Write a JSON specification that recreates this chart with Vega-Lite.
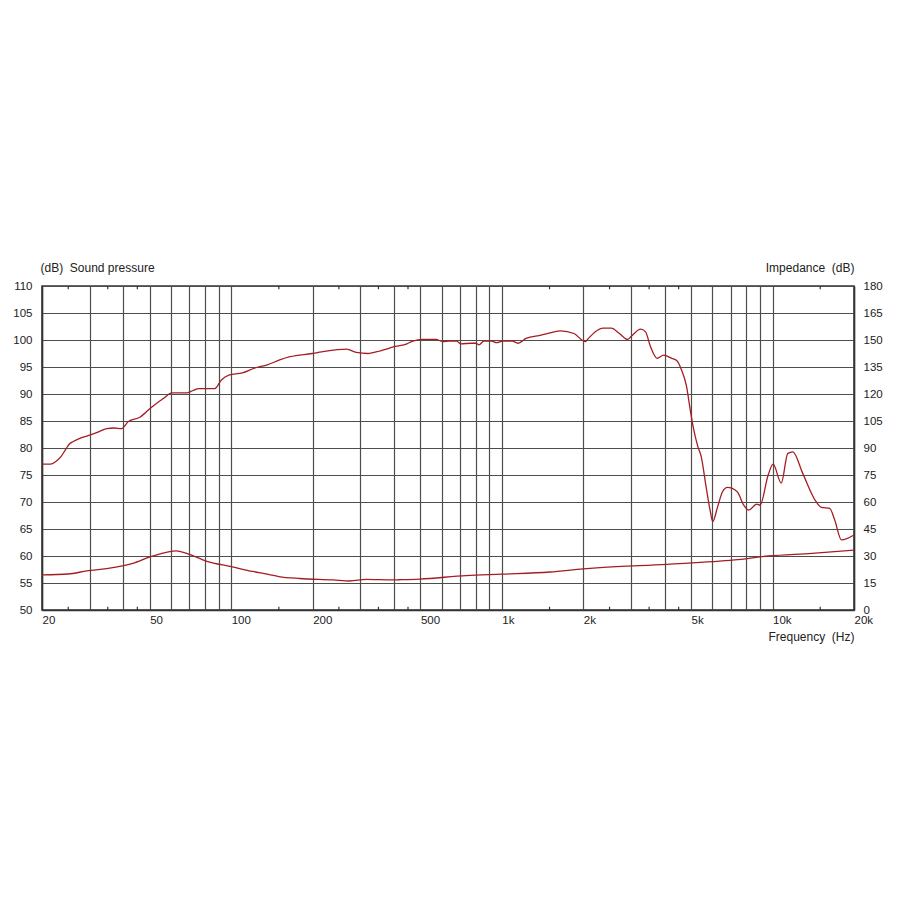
{
  "$schema": "https://vega.github.io/schema/vega-lite/v6.json",
  "width": 812,
  "height": 324,
  "autosize": {"type": "none"},
  "padding": {"left": 42, "top": 286, "right": 46, "bottom": 290},
  "background": "white",
  "config": {
    "view": {"stroke": "#333", "strokeWidth": 1.5},
    "axis": {
      "labelFont": "Liberation Sans",
      "labelFontSize": 11.5,
      "labelColor": "#222",
      "titleFont": "Liberation Sans",
      "titleFontSize": 12,
      "titleFontWeight": "normal",
      "titleColor": "#222",
      "domainColor": "#333",
      "domainWidth": 1.5,
      "gridColor": "#4d4d4d",
      "gridWidth": 1.2,
      "gridOpacity": 1,
      "ticks": false
    }
  },
  "datasets": {
    "spl": [
      {"f": 20, "spl": 77.0}, {"f": 21.5, "spl": 77.0}, {"f": 22.5, "spl": 77.5}, {"f": 23.5, "spl": 78.4},
      {"f": 24.5, "spl": 79.8}, {"f": 25.2, "spl": 80.7}, {"f": 26.1, "spl": 81.2}, {"f": 27.6, "spl": 81.8},
      {"f": 29.3, "spl": 82.2}, {"f": 32, "spl": 82.9}, {"f": 34.7, "spl": 83.6}, {"f": 37, "spl": 83.7},
      {"f": 39.3, "spl": 83.6}, {"f": 41.7, "spl": 84.9}, {"f": 46, "spl": 85.7}, {"f": 50.4, "spl": 87.4},
      {"f": 56.3, "spl": 89.2}, {"f": 60.4, "spl": 90.2}, {"f": 68.5, "spl": 90.2}, {"f": 72, "spl": 90.6},
      {"f": 76, "spl": 91.0}, {"f": 87, "spl": 91.0}, {"f": 92, "spl": 92.6}, {"f": 98, "spl": 93.5},
      {"f": 110, "spl": 93.9}, {"f": 122, "spl": 94.8}, {"f": 136, "spl": 95.4}, {"f": 151, "spl": 96.3},
      {"f": 165, "spl": 96.9}, {"f": 199, "spl": 97.5}, {"f": 216, "spl": 97.8}, {"f": 267, "spl": 98.3},
      {"f": 290, "spl": 97.7}, {"f": 320, "spl": 97.5}, {"f": 356, "spl": 98.0}, {"f": 404, "spl": 98.8},
      {"f": 446, "spl": 99.3}, {"f": 469, "spl": 99.8}, {"f": 510, "spl": 100.1}, {"f": 571, "spl": 100.1},
      {"f": 604, "spl": 99.7}, {"f": 640, "spl": 99.8}, {"f": 680, "spl": 99.8}, {"f": 706, "spl": 99.3},
      {"f": 771, "spl": 99.4}, {"f": 802, "spl": 99.4}, {"f": 823, "spl": 99.1}, {"f": 858, "spl": 99.8},
      {"f": 918, "spl": 99.8}, {"f": 955, "spl": 99.5}, {"f": 1010, "spl": 99.8}, {"f": 1092, "spl": 99.8},
      {"f": 1148, "spl": 99.4}, {"f": 1228, "spl": 100.3}, {"f": 1397, "spl": 100.9}, {"f": 1506, "spl": 101.3},
      {"f": 1650, "spl": 101.7}, {"f": 1846, "spl": 101.2}, {"f": 2033, "spl": 99.7}, {"f": 2090, "spl": 100.3},
      {"f": 2209, "spl": 101.5}, {"f": 2367, "spl": 102.2}, {"f": 2537, "spl": 102.2}, {"f": 2719, "spl": 101.2},
      {"f": 2914, "spl": 100.1}, {"f": 2997, "spl": 100.6}, {"f": 3257, "spl": 102.0}, {"f": 3395, "spl": 101.5},
      {"f": 3540, "spl": 98.8}, {"f": 3744, "spl": 96.6}, {"f": 3961, "spl": 97.2}, {"f": 4245, "spl": 96.6},
      {"f": 4426, "spl": 96.2}, {"f": 4615, "spl": 94.4}, {"f": 4812, "spl": 91.4}, {"f": 4947, "spl": 87.6},
      {"f": 5087, "spl": 84.0}, {"f": 5302, "spl": 80.2}, {"f": 5452, "spl": 78.4}, {"f": 5684, "spl": 72.8},
      {"f": 5879, "spl": 68.5}, {"f": 6013, "spl": 66.4}, {"f": 6268, "spl": 69.1}, {"f": 6535, "spl": 71.9},
      {"f": 6813, "spl": 72.7}, {"f": 7405, "spl": 71.9}, {"f": 7832, "spl": 69.4}, {"f": 8165, "spl": 68.5},
      {"f": 8747, "spl": 69.6}, {"f": 8991, "spl": 69.4}, {"f": 9638, "spl": 75.0}, {"f": 10050, "spl": 77.0},
      {"f": 10770, "spl": 73.5}, {"f": 11390, "spl": 79.0}, {"f": 11880, "spl": 79.3}, {"f": 12930, "spl": 75.3},
      {"f": 14470, "spl": 70.1}, {"f": 15180, "spl": 69.0}, {"f": 16270, "spl": 68.8}, {"f": 16960, "spl": 66.7},
      {"f": 17980, "spl": 63.0}, {"f": 20000, "spl": 63.9}
    ],
    "imp": [
      {"f": 20, "z": 19.5}, {"f": 25, "z": 20.0}, {"f": 29.3, "z": 21.7}, {"f": 34.7, "z": 23.0},
      {"f": 43.3, "z": 25.9}, {"f": 50.4, "z": 29.6}, {"f": 57.6, "z": 32.0}, {"f": 62.7, "z": 32.9},
      {"f": 68.5, "z": 31.5}, {"f": 81.3, "z": 27.0}, {"f": 100, "z": 24.1}, {"f": 120, "z": 21.4},
      {"f": 136, "z": 19.9}, {"f": 150, "z": 18.6}, {"f": 179, "z": 17.5}, {"f": 238, "z": 16.7},
      {"f": 274, "z": 16.1}, {"f": 316, "z": 17.0}, {"f": 395, "z": 16.7}, {"f": 417, "z": 16.8},
      {"f": 498, "z": 17.2}, {"f": 738, "z": 19.1}, {"f": 1000, "z": 19.9}, {"f": 1506, "z": 21.1},
      {"f": 2000, "z": 22.8}, {"f": 2306, "z": 23.5}, {"f": 4070, "z": 25.4}, {"f": 7240, "z": 27.8},
      {"f": 9660, "z": 30.0}, {"f": 13980, "z": 31.5}, {"f": 20000, "z": 33.3}
    ],
    "minor": [
      {"f": 25}, {"f": 35}, {"f": 45}, {"f": 150}, {"f": 250}, {"f": 350}, {"f": 450},
      {"f": 1500}, {"f": 2500}, {"f": 3500}, {"f": 4500}, {"f": 15000}
    ]
  },
  "layer": [
    {
      "layer": [
        {
          "data": {"name": "spl"},
          "mark": {"type": "line", "color": "#a51d24", "strokeWidth": 1.3, "interpolate": "monotone"},
          "encoding": {
            "x": {
              "field": "f", "type": "quantitative",
              "scale": {"type": "log", "domain": [20, 20000], "nice": false},
              "axis": {
                "values": [20, 30, 40, 50, 60, 70, 80, 90, 100, 200, 300, 400, 500, 600, 700, 800, 900, 1000, 2000, 3000, 4000, 5000, 6000, 7000, 8000, 9000, 10000, 20000],
                "labelExpr": "indexof([20, 50, 100, 200, 500, 1000, 2000, 5000, 10000, 20000], datum.value) >= 0 ? (datum.value >= 1000 ? (datum.value / 1000) + 'k' : '' + datum.value) : ''",
                "labelAlign": "left",
                "labelBaseline": "top",
                "labelPadding": 4,
                "labelFlush": false,
                "labelOverlap": false,
                "labelBound": false,
                "grid": true,
                "title": "Frequency\u00a0 (Hz)",
                "titleAnchor": null,
                "titleX": 812,
                "titleY": 26,
                "titleAlign": "right",
                "titleBaseline": "middle",
                "titleAngle": 0
              }
            },
            "y": {
              "field": "spl", "type": "quantitative",
              "scale": {"domain": [50, 110], "zero": false, "nice": false},
              "axis": {
                "values": [50, 55, 60, 65, 70, 75, 80, 85, 90, 95, 100, 105, 110],
                "grid": true,
                "labelPadding": 10,
                "labelOverlap": false,
                "labelFlush": false,
                "title": "(dB)\u00a0 Sound pressure",
                "titleAngle": 0,
                "titleAlign": "left",
                "titleBaseline": "middle",
                "titleX": -2,
                "titleY": -19
              }
            }
          }
        },
        {
          "data": {"name": "minor"},
          "mark": {"type": "rule", "color": "#333", "strokeWidth": 1.2},
          "encoding": {
            "x": {"field": "f", "type": "quantitative"},
            "y": {"datum": 50, "type": "quantitative", "axis": {"values": [50, 55, 60, 65, 70, 75, 80, 85, 90, 95, 100, 105, 110], "grid": true}},
            "y2": {"datum": 50.6}
          }
        },
        {
          "data": {"name": "minor"},
          "mark": {"type": "rule", "color": "#333", "strokeWidth": 1.2},
          "encoding": {
            "x": {"field": "f", "type": "quantitative"},
            "y": {"datum": 109.4, "type": "quantitative", "axis": {"values": [50, 55, 60, 65, 70, 75, 80, 85, 90, 95, 100, 105, 110], "grid": true}},
            "y2": {"datum": 110}
          }
        }
      ]
    },
    {
      "data": {"name": "imp"},
      "mark": {"type": "line", "color": "#a51d24", "strokeWidth": 1.3, "interpolate": "monotone"},
      "encoding": {
        "x": {"field": "f", "type": "quantitative"},
        "y": {
          "field": "z", "type": "quantitative",
          "scale": {"domain": [0, 180], "nice": false},
          "axis": {
            "orient": "right",
            "values": [0, 15, 30, 45, 60, 75, 90, 105, 120, 135, 150, 165, 180],
            "grid": false,
            "labelPadding": 9,
            "labelOverlap": false,
            "labelFlush": false,
            "title": "Impedance\u00a0 (dB)",
            "titleAngle": 0,
            "titleAlign": "right",
            "titleBaseline": "middle",
            "titleX": 0,
            "titleY": -19
          }
        }
      }
    }
  ],
  "resolve": {"scale": {"y": "independent"}}
}
